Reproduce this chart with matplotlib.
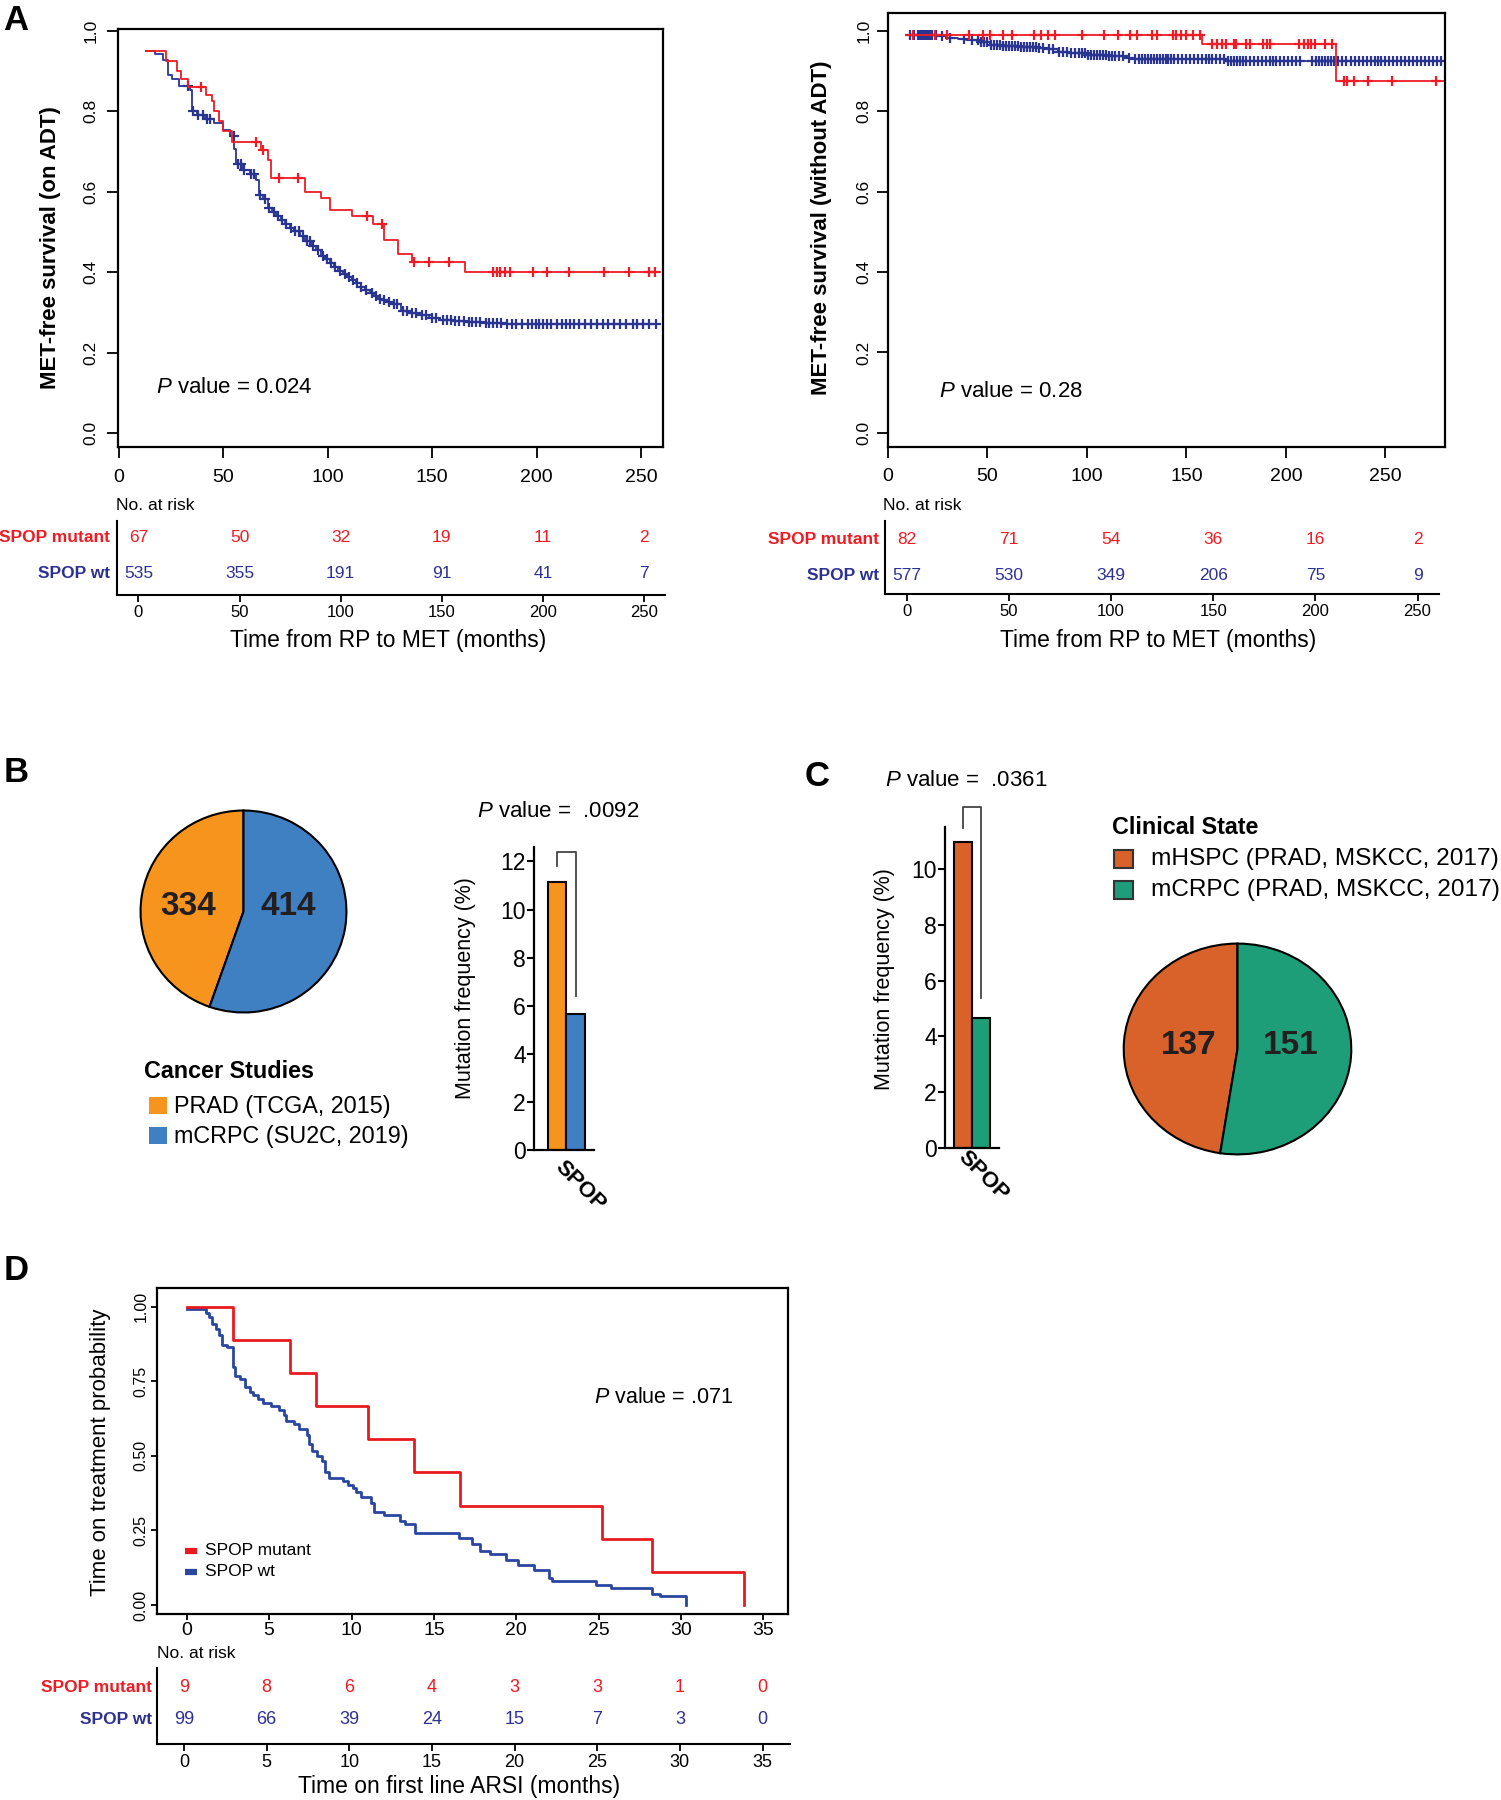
import numpy as np
import matplotlib
matplotlib.use('Agg')
import matplotlib.pyplot as plt
from matplotlib.patches import Rectangle

plt.rcParams['font.family'] = ['Liberation Sans', 'DejaVu Sans']
plt.rcParams['mathtext.fontset'] = 'custom'
plt.rcParams['mathtext.it'] = 'Liberation Sans:italic'
plt.rcParams['mathtext.rm'] = 'Liberation Sans'

# ---- data -------------------------------------------------------------
# Panel A, on ADT (time in months, survival after each step)
red_a1_t = [12.7, 22.7, 27.6, 29.7, 32.9, 41.8, 44.6, 45.6, 47.7, 49.9,
            54.1, 67.9, 71.1, 72.8, 89.1, 96.6, 100.8, 111.4, 121.6, 126.7,
            133.7, 140.1, 165.5, 259.0]
red_a1_s = [0.95, 0.925, 0.90, 0.88, 0.86, 0.84, 0.825, 0.80, 0.775, 0.75,
            0.725, 0.705, 0.68, 0.635, 0.60, 0.585, 0.555, 0.54, 0.52, 0.48,
            0.445, 0.425, 0.40, 0.40]
red_a1_cens = [39.3, 65.8, 69.0, 76.4, 85.5, 118.8, 126.0, 141.1, 148.6, 158.1,
               178.9, 181.0, 182.5, 184.6, 187.4, 198.4, 204.8, 215.4, 232.4,
               244.1, 253.6, 256.8]

blue_a1_t = [12.7, 17, 21.2, 23.3, 25.5, 28.6, 34, 35, 37.1, 41.4,
             45.6, 49.9, 53, 55.2, 56.2, 59.4, 62.6, 65.8, 66.8, 69,
             71.1, 73.2, 75.3, 77.5, 79.6, 81.7, 83.8, 86.5, 89.1, 92.3,
             94.5, 96.6, 98.7, 100.8, 103, 105, 107.2, 109.3, 111.4, 113.5,
             115.7, 117.8, 120, 122, 124.2, 126.3, 128.4, 130.5, 134.8, 139,
             143.3, 148.6, 153.9, 160, 166.6, 175, 183.6, 259]
blue_a1_s = [0.95, 0.943, 0.927, 0.89, 0.88, 0.864, 0.854, 0.80, 0.79, 0.78,
             0.77, 0.754, 0.738, 0.707, 0.67, 0.655, 0.644, 0.629, 0.592, 0.581,
             0.56, 0.55, 0.54, 0.53, 0.519, 0.511, 0.503, 0.49, 0.477, 0.466,
             0.456, 0.44, 0.432, 0.424, 0.413, 0.403, 0.395, 0.388, 0.38, 0.372,
             0.364, 0.356, 0.349, 0.341, 0.334, 0.33, 0.325, 0.32, 0.304, 0.298,
             0.293, 0.287, 0.28, 0.278, 0.276, 0.273, 0.27, 0.27]
blue_a1_cens = [33, 35.5, 38, 40, 42, 43.5, 55, 57, 58.5, 60, 63, 64.5, 67.5, 70,
                72, 74, 76, 78, 80, 82.5, 84.5, 86, 88, 90, 91.5, 93, 95.5, 97.5,
                99.5, 101.5, 103.5, 106, 108, 110, 112, 114, 116, 118.5, 121, 123,
                125, 127, 129.5, 131.5, 133, 136, 138, 140.5, 142, 145, 147, 150,
                152, 155, 157, 159, 161, 163, 165, 167.5, 169, 171, 173, 175.5,
                177, 179, 181, 183, 186, 188, 190, 193, 196, 198, 199.5, 201, 203,
                205, 207, 209.5, 212, 214, 216, 218, 220.5, 223, 226, 229, 232,
                234, 237, 240, 243, 246, 248, 251, 254, 257]

# Panel A, without ADT
red_a2_t = [9.2, 158.0, 225.0, 280.0]
red_a2_s = [0.99, 0.968, 0.875, 0.875]
red_a2_cens = [12.8, 23.7, 29.8, 40.7, 47.9, 51.5, 57.6, 62.4, 73.3, 77.0, 80.6,
               84.2, 97.5, 108.4, 115.7, 121.7, 125.4, 132.6, 135.0, 143.5, 144.7,
               147.1, 149.6, 153.2, 156.8, 162.9, 165.3, 167.7, 170.1, 173.8,
               175.0, 179.8, 182.2, 188.3, 190.7, 191.9, 206.4, 208.9, 211.3,
               212.5, 214.9, 219.7, 223.0, 229.4, 230.6, 234.3, 241.5, 253.6, 275.4]

blue_a2_t = [9.2, 25, 29.8, 35, 39.4, 46.7, 51.5, 58, 66, 75,
             80.6, 85.4, 92, 100, 110, 119.3, 124, 170, 280]
blue_a2_s = [0.99, 0.987, 0.983, 0.98, 0.976, 0.971, 0.965, 0.962, 0.96, 0.957,
             0.954, 0.948, 0.944, 0.94, 0.937, 0.933, 0.929, 0.924, 0.924]
blue_a2_cens = [11, 13, 15, 16, 17, 18, 19, 20, 21, 22, 24, 27, 31, 38, 42, 45, 47,
                48.5, 50, 52, 53.5, 55, 56.5, 58, 59.5, 61, 62.5, 64, 65.5, 67,
                68.5, 70, 71.5, 73, 74.5, 76, 78, 81, 83, 86, 88, 90, 92, 94, 96,
                97.5, 99, 100.5, 102, 103.5, 105, 106.5, 108, 109.5, 111, 112.5,
                114, 116, 118, 121, 124, 126, 127.5, 129, 130.5, 132, 133.5, 135,
                136.5, 138, 139.5, 141, 142.5, 144, 146, 148, 150, 152, 154, 156,
                158, 160, 161.5, 163, 165, 167, 169, 171, 172.5, 174, 175.5, 177,
                178.5, 180, 182, 184, 186, 188, 190, 192, 193.5, 195, 197, 199,
                201, 203, 205, 207, 213, 215, 216.5, 218, 219.5, 221, 222.5, 224,
                226, 228, 230, 232.5, 235, 237, 239, 241, 243, 245, 246.5, 248,
                250, 252, 254, 256, 258, 260, 262, 264, 266, 268, 270, 272, 274,
                276, 278]

risk_a_times = [0, 50, 100, 150, 200, 250]
risk_a1_mut = [67, 50, 32, 19, 11, 2]
risk_a1_wt = [535, 355, 191, 91, 41, 7]
risk_a2_mut = [82, 71, 54, 36, 16, 2]
risk_a2_wt = [577, 530, 349, 206, 75, 9]

# Panel B
b_labels = ['PRAD (TCGA, 2015)', 'mCRPC (SU2C, 2019)']
b_counts = [334, 414]
b_freq = [11.15, 5.67]

# Panel C
c_labels = ['mHSPC (PRAD, MSKCC, 2017)', 'mCRPC (PRAD, MSKCC, 2017)']
c_counts = [137, 151]
c_freq = [10.96, 4.65]

# Panel D
red_d_t = [0, 2.82, 6.26, 7.83, 10.99, 13.78, 16.56, 25.23, 28.27, 33.84]
red_d_s = [1.0, 0.889, 0.778, 0.667, 0.556, 0.444, 0.333, 0.222, 0.111, 0.0]
blue_d_t = [0, 1.19, 1.35, 1.5, 1.75, 1.97, 2.13, 2.44, 2.82, 2.91,
            3.22, 3.54, 3.85, 4.0, 4.32, 4.63, 5.1, 5.57, 5.89, 6.04,
            6.51, 6.83, 7.3, 7.39, 7.6, 7.92, 8.23, 8.39, 8.64, 9.49,
            9.8, 10.1, 10.27, 10.58, 11.2, 11.37, 11.99, 12.93, 13.24, 13.87,
            16.53, 17.31, 17.78, 18.41, 19.35, 20.13, 21.07, 22.01, 22.17, 24.83,
            25.77, 28.27, 28.74, 30.31]
blue_d_s = [0.99, 0.977, 0.965, 0.941, 0.923, 0.906, 0.87, 0.864, 0.798, 0.768,
            0.756, 0.732, 0.714, 0.702, 0.69, 0.678, 0.666, 0.654, 0.636, 0.618,
            0.606, 0.589, 0.571, 0.541, 0.517, 0.499, 0.481, 0.445, 0.427, 0.415,
            0.403, 0.391, 0.379, 0.361, 0.343, 0.313, 0.301, 0.283, 0.272, 0.242,
            0.224, 0.206, 0.182, 0.17, 0.152, 0.134, 0.116, 0.092, 0.08, 0.068,
            0.056, 0.038, 0.029, 0.0]
risk_d_times = [0, 5, 10, 15, 20, 25, 30, 35]
risk_d_mut = [9, 8, 6, 4, 3, 3, 1, 0]
risk_d_wt = [99, 66, 39, 24, 15, 7, 3, 0]

# ---- colours ----------------------------------------------------------
KM_RED = '#EE1C25'
KM_BLUE = '#2A3591'
TXT_RED = '#ED1C24'
TXT_BLUE = '#2E3192'
B_ORANGE = '#F7941E'
B_BLUE = '#3F80C3'
C_ORANGE = '#D8622A'
C_GREEN = '#1D9E78'
D_RED = '#E8191F'
D_BLUE = '#2B46A0'

W, H = 1501, 1800
fig = plt.figure(figsize=(W / 100, H / 100), dpi=100)


def rect(x0, y0, x1, y1):
    return [x0 / W, 1 - y1 / H, (x1 - x0) / W, (y1 - y0) / H]


def ftext(x, y, s, **kw):
    fig.text(x / W, 1 - y / H, s, **kw)


def frect(x0, y0, x1, y1, **kw):
    fig.add_artist(Rectangle((x0 / W, 1 - y1 / H), (x1 - x0) / W, (y1 - y0) / H,
                             transform=fig.transFigure, **kw))


def km(ax, t, s, cens, color, lw=1.3, ms=7.5, mew=1.6):
    t = np.asarray(t)
    s = np.asarray(s)
    ax.step(t, s, where='post', color=color, lw=lw)
    if cens is not None:
        c = np.asarray(cens)
        idx = np.searchsorted(t, c, side='right') - 1
        ax.plot(c, s[idx], ls='none', marker='+', color=color, ms=ms, mew=mew)


def risk_table(px, xlim, ticks, mut, wt, rows, fs=12.5, tick_fs=12):
    ax = fig.add_axes(rect(*px))
    ax.set_xlim(*xlim)
    ax.set_ylim(px[3], px[1])
    ax.patch.set_visible(False)
    for sp in ['top', 'right']:
        ax.spines[sp].set_visible(False)
    for sp in ['left', 'bottom']:
        ax.spines[sp].set_linewidth(1.5)
    ax.set_yticks([])
    ax.set_xticks(ticks)
    ax.tick_params(axis='x', length=5, width=1.3, labelsize=tick_fs, pad=2)
    for x, m, w in zip(ticks, mut, wt):
        ax.text(x, rows[0], str(m), color=TXT_RED, ha='center', va='center', fontsize=fs)
        ax.text(x, rows[1], str(w), color=TXT_BLUE, ha='center', va='center', fontsize=fs)
    return ax


# ---- Panel A left -----------------------------------------------------
ftext(16, 20, 'A', fontsize=25, fontweight='bold', ha='center', va='center')

ax = fig.add_axes(rect(118, 29, 663, 447))
km(ax, blue_a1_t, blue_a1_s, blue_a1_cens, KM_BLUE)
km(ax, red_a1_t, red_a1_s, red_a1_cens, KM_RED)
ax.set_xlim(-0.5, 260.5)
ax.set_ylim(-0.035, 1.005)
for sp in ax.spines.values():
    sp.set_linewidth(1.6)
ax.set_xticks(risk_a_times)
ax.set_yticks([0, 0.2, 0.4, 0.6, 0.8, 1.0])
ax.set_yticklabels(['0.0', '0.2', '0.4', '0.6', '0.8', '1.0'], rotation=90, va='center')
ax.tick_params(axis='x', length=8, width=1.3, labelsize=14, pad=8)
ax.tick_params(axis='y', length=8, width=1.3, labelsize=12.5, pad=6)
ax.text(17.8, 0.113, r'$P$ value = 0.024', fontsize=16, ha='left', va='center')
ftext(51, 248, 'MET-free survival (on ADT)', fontsize=16, fontweight='bold',
      rotation=90, ha='center', va='center')

risk_table((117, 521, 665, 595), (-10.6, 260.4), risk_a_times,
           risk_a1_mut, risk_a1_wt, (538, 574))
ftext(116, 505, 'No. at risk', fontsize=12.5, ha='left', va='center')
ftext(110, 538, 'SPOP mutant', fontsize=12.5, fontweight='bold', color=TXT_RED,
      ha='right', va='center')
ftext(110, 574, 'SPOP wt', fontsize=12.5, fontweight='bold', color=TXT_BLUE,
      ha='right', va='center')
ftext(388, 641, 'Time from RP to MET (months)', fontsize=16.5, ha='center', va='center')

# ---- Panel A right ----------------------------------------------------
ax = fig.add_axes(rect(888, 13, 1445, 447))
km(ax, blue_a2_t, blue_a2_s, blue_a2_cens, KM_BLUE)
km(ax, red_a2_t, red_a2_s, red_a2_cens, KM_RED)
ax.set_xlim(0, 280)
ax.set_ylim(-0.035, 1.044)
for sp in ax.spines.values():
    sp.set_linewidth(1.6)
ax.set_xticks(risk_a_times)
ax.set_yticks([0, 0.2, 0.4, 0.6, 0.8, 1.0])
ax.set_yticklabels(['0.0', '0.2', '0.4', '0.6', '0.8', '1.0'], rotation=90, va='center')
ax.tick_params(axis='x', length=8, width=1.3, labelsize=14, pad=7)
ax.tick_params(axis='y', length=8, width=1.3, labelsize=12.5, pad=4)
ax.text(25.4, 0.103, r'$P$ value = 0.28', fontsize=16, ha='left', va='center')
ftext(822, 228, 'MET-free survival (without ADT)', fontsize=16, fontweight='bold',
      rotation=90, ha='center', va='center')

risk_table((885, 521, 1439, 594), (-10.6, 260.5), risk_a_times,
           risk_a2_mut, risk_a2_wt, (539, 575))
ftext(883, 505, 'No. at risk', fontsize=12.5, ha='left', va='center')
ftext(879, 539, 'SPOP mutant', fontsize=12.5, fontweight='bold', color=TXT_RED,
      ha='right', va='center')
ftext(879, 575, 'SPOP wt', fontsize=12.5, fontweight='bold', color=TXT_BLUE,
      ha='right', va='center')
ftext(1158, 641, 'Time from RP to MET (months)', fontsize=16.5, ha='center', va='center')

# ---- Panel B ----------------------------------------------------------
ftext(16, 772, 'B', fontsize=25, fontweight='bold', ha='center', va='center')

ax = fig.add_axes(rect(139, 809, 348, 1014))
ax.pie(b_counts, colors=[B_ORANGE, B_BLUE], startangle=90, counterclock=True,
       wedgeprops=dict(edgecolor='black', linewidth=1.5))
ax.set_aspect('auto')
ax.set_xlim(-1.015, 1.015)
ax.set_ylim(-1.015, 1.015)
ax.text(-0.536, 0.047, str(b_counts[0]), fontsize=24, fontweight='bold',
        color='#231F20', ha='center', va='center')
ax.text(0.43, 0.047, str(b_counts[1]), fontsize=24, fontweight='bold',
        color='#231F20', ha='center', va='center')

ftext(144, 1071, 'Cancer Studies', fontsize=16.8, fontweight='bold', ha='left', va='center')
frect(149, 1097, 167, 1114, facecolor=B_ORANGE, edgecolor='none')
frect(149, 1127, 167, 1144, facecolor=B_BLUE, edgecolor='none')
ftext(174, 1106, b_labels[0], fontsize=16.8, ha='left', va='center')
ftext(174, 1136, b_labels[1], fontsize=16.8, ha='left', va='center')

ax = fig.add_axes(rect(534, 847, 594, 1150))
ax.bar([0, 1], b_freq, width=1, color=[B_ORANGE, B_BLUE], edgecolor='black', linewidth=1.5)
ax.plot([0, 0, 1, 1], [11.8, 12.4, 12.4, 6.4], color='#444444', lw=1.3, clip_on=False)
ax.set_xlim(-1.22, 1.98)
ax.set_ylim(0, 12.6)
ax.patch.set_visible(False)
for sp in ['top', 'right']:
    ax.spines[sp].set_visible(False)
for sp in ['left', 'bottom']:
    ax.spines[sp].set_linewidth(1.6)
ax.set_xticks([])
ax.set_yticks([0, 2, 4, 6, 8, 10, 12])
ax.tick_params(axis='y', length=5, width=1.5, labelsize=16.5, pad=1)
ftext(465, 988, 'Mutation frequency (%)', fontsize=15.5, rotation=90, ha='center', va='center')
ftext(580, 1186, 'SPOP', fontsize=16, fontweight='bold', rotation=-45,
      ha='center', va='center')
ftext(477, 811, r'$P$ value =  .0092', fontsize=16, ha='left', va='center')

# ---- Panel C ----------------------------------------------------------
ftext(817, 777, 'C', fontsize=25, fontweight='bold', ha='center', va='center')
ftext(885, 780, r'$P$ value =  .0361', fontsize=16, ha='left', va='center')

ax = fig.add_axes(rect(945, 827, 999, 1148))
ax.bar([0, 1], c_freq, width=1, color=[C_ORANGE, C_GREEN], edgecolor='black', linewidth=1.5)
ax.plot([0, 0, 1, 1], [11.46, 12.2, 12.2, 5.37], color='#444444', lw=1.3, clip_on=False)
ax.set_xlim(-1.0, 2.0)
ax.set_ylim(0, 11.5)
ax.patch.set_visible(False)
for sp in ['top', 'right']:
    ax.spines[sp].set_visible(False)
for sp in ['left', 'bottom']:
    ax.spines[sp].set_linewidth(1.6)
ax.set_xticks([])
ax.set_yticks([0, 2, 4, 6, 8, 10])
ax.tick_params(axis='y', length=5, width=1.5, labelsize=16.5, pad=1)
ftext(884, 979, 'Mutation frequency (%)', fontsize=15.5, rotation=90, ha='center', va='center')
ftext(983, 1176, 'SPOP', fontsize=16, fontweight='bold', rotation=-45,
      ha='center', va='center')

ftext(1112, 827, 'Clinical State', fontsize=16.8, fontweight='bold', ha='left', va='center')
frect(1114, 850, 1133, 868, facecolor=C_ORANGE, edgecolor='#333333', linewidth=1.5)
frect(1114, 881, 1133, 899, facecolor=C_GREEN, edgecolor='#333333', linewidth=1.5)
ftext(1151, 859, c_labels[0], fontsize=17.6, ha='left', va='center')
ftext(1151, 890, c_labels[1], fontsize=17.6, ha='left', va='center')

ax = fig.add_axes(rect(1122, 942, 1353, 1156))
ax.pie(c_counts, colors=[C_ORANGE, C_GREEN], startangle=90, counterclock=True,
       wedgeprops=dict(edgecolor='black', linewidth=1.5))
ax.set_aspect('auto')
ax.set_xlim(-1.015, 1.015)
ax.set_ylim(-1.015, 1.015)
ax.text(-0.43, 0.037, str(c_counts[0]), fontsize=24, fontweight='bold',
        color='#231F20', ha='center', va='center')
ax.text(0.47, 0.037, str(c_counts[1]), fontsize=24, fontweight='bold',
        color='#231F20', ha='center', va='center')

# ---- Panel D ----------------------------------------------------------
ftext(16, 1270, 'D', fontsize=25, fontweight='bold', ha='center', va='center')

ax = fig.add_axes(rect(157, 1288, 788, 1614))
km(ax, blue_d_t, blue_d_s, None, D_BLUE, lw=2.0)
km(ax, red_d_t, red_d_s, None, D_RED, lw=2.0)
ax.set_xlim(-1.81, 36.5)
ax.set_ylim(-0.03, 1.062)
for sp in ax.spines.values():
    sp.set_linewidth(1.6)
ax.set_xticks(risk_d_times)
ax.set_yticks([0, 0.25, 0.5, 0.75, 1.0])
ax.set_yticklabels(['0.00', '0.25', '0.50', '0.75', '1.00'], rotation=90, va='center')
ax.tick_params(axis='x', length=4, width=1.3, labelsize=14, pad=2)
ax.tick_params(axis='y', length=4, width=1.3, labelsize=11.5, pad=2)
ax.text(24.7, 0.696, r'$P$ value = .071', fontsize=15.5, ha='left', va='center')
ax.plot([-0.13, 0.62], [0.182, 0.182], color=D_RED, lw=4.5, solid_capstyle='butt')
ax.plot([-0.13, 0.62], [0.112, 0.112], color=D_BLUE, lw=4.5, solid_capstyle='butt')
ax.text(1.13, 0.182, 'SPOP mutant', fontsize=12.5, ha='left', va='center')
ax.text(1.13, 0.112, 'SPOP wt', fontsize=12.5, ha='left', va='center')
ftext(101, 1452, 'Time on treatment probability', fontsize=16, rotation=90,
      ha='center', va='center')

risk_table((157, 1668, 790, 1744), (-1.63, 36.66), risk_d_times,
           risk_d_mut, risk_d_wt, (1688, 1720), fs=13, tick_fs=13)
ftext(157, 1654, 'No. at risk', fontsize=12.5, ha='left', va='center')
ftext(152, 1688, 'SPOP mutant', fontsize=12.5, fontweight='bold', color=TXT_RED,
      ha='right', va='center')
ftext(152, 1720, 'SPOP wt', fontsize=12.5, fontweight='bold', color=TXT_BLUE,
      ha='right', va='center')
ftext(459, 1786, 'Time on first line ARSI (months)', fontsize=16.5, ha='center', va='center')

fig.savefig('out.png', dpi=100)
